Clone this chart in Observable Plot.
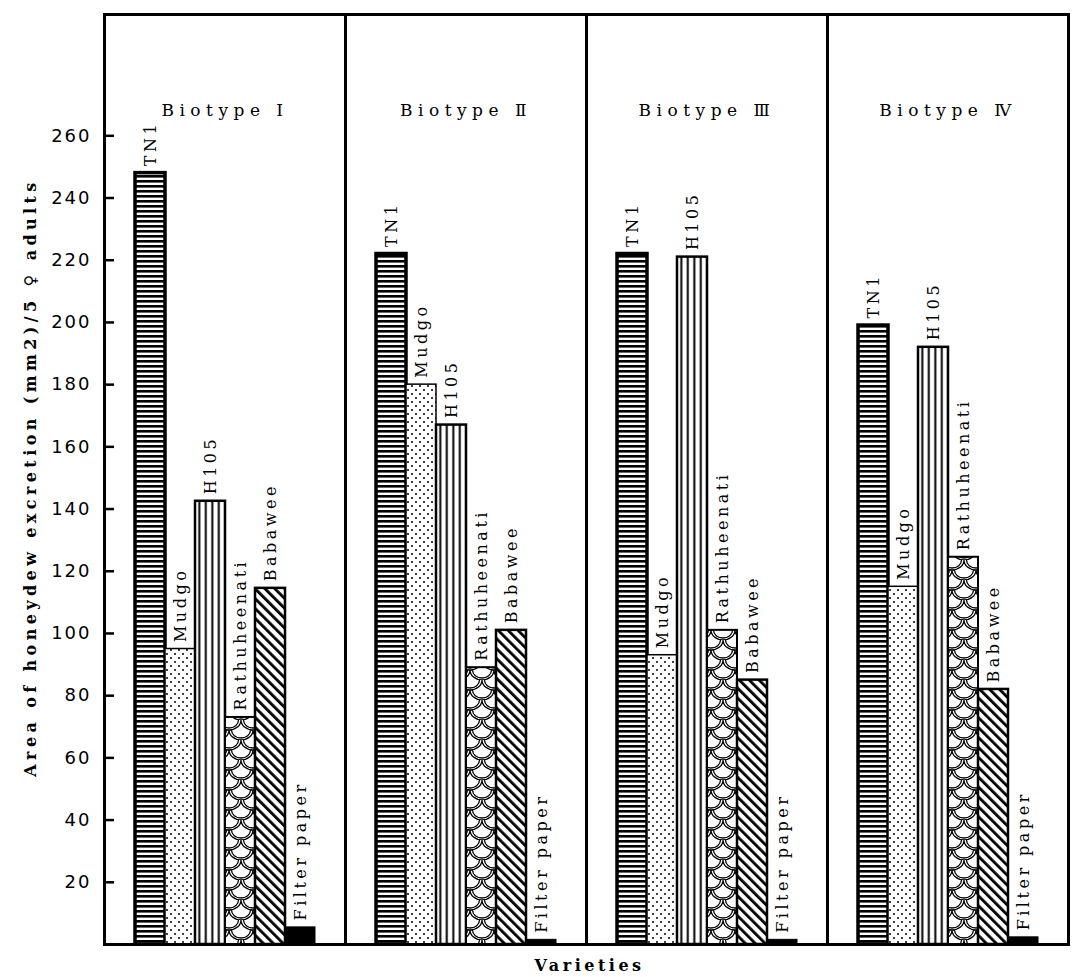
<!DOCTYPE html>
<html><head><meta charset="utf-8">
<script src="https://cdn.jsdelivr.net/npm/d3@7"></script>
<script src="https://cdn.jsdelivr.net/npm/@observablehq/plot@0.6"></script>
<style>body{margin:0;background:#fff}</style>
</head><body><div id="chart"></div>
<script>
const biotypes = ["Biotype I", "Biotype Ⅱ", "Biotype Ⅲ", "Biotype Ⅳ"];
const varieties = ["TN1", "Mudgo", "H105", "Rathuheenati", "Babawee", "Filter paper"];
const biotypeI   = [248, 95, 142.5, 73, 114.5, 5.5];
const biotypeII  = [222, 180, 167, 89, 101, 1.5];
const biotypeIII = [222, 93, 221, 101, 85, 1.5];
const biotypeIV  = [199, 115, 192, 124.5, 82, 2.3];
const yTicks = [20, 40, 60, 80, 100, 120, 140, 160, 180, 200, 220, 240, 260];
const yLabel = "Area of honeydew excretion (mm2)/5 ♀ adults";
const xLabel = "Varieties";

const series = [biotypeI, biotypeII, biotypeIII, biotypeIV];
const data = [];
biotypes.forEach((b, i) => varieties.forEach((v, j) => data.push({biotype: b, variety: v, value: series[i][j]})));

const fills = {
  "TN1": "url(#p-tn1)", "Mudgo": "url(#p-mudgo)", "H105": "url(#p-h105)",
  "Rathuheenati": "url(#p-rath)", "Babawee": "url(#p-bab)", "Filter paper": "black"
};
const strokeW = {"TN1": 3.5, "Mudgo": 1.5, "H105": 2.5, "Rathuheenati": 2, "Babawee": 2.5, "Filter paper": 1};
const serif = "'DejaVu Serif', serif";

const barMarks = varieties.map(v => Plot.barY(data.filter(d => d.variety === v), {
  fx: "biotype", x: "variety", y: "value", fill: fills[v], stroke: "black", strokeWidth: strokeW[v]
}));

const svg = Plot.plot({
  width: 1072, height: 977,
  marginLeft: 103, marginRight: 3, marginTop: 14, marginBottom: 33,
  style: {background: "white", color: "black", fontFamily: serif},
  fx: {domain: biotypes, paddingInner: 0, paddingOuter: 0, axis: null},
  x: {domain: varieties, paddingInner: 0, paddingOuter: 1, axis: null},
  y: {domain: [0, 299], axis: null},
  marks: [
    ...barMarks,
    Plot.text(data, {fx: "biotype", x: "variety", y: "value", text: "variety", rotate: -90,
      textAnchor: "start", dy: -7, fontSize: 16, fontFamily: serif, fill: "black"}),
    Plot.text(biotypes, {fx: d => d, text: d => d, frameAnchor: "top", dy: 89,
      fontSize: 17, fontFamily: serif, fill: "black"}),
    Plot.text([biotypes[0]], {fx: d => d, text: () => yLabel, frameAnchor: "left", textAnchor: "middle", rotate: -90,
      dx: -74, dy: -2, fontSize: 16, fontWeight: "bold", fontFamily: serif, fill: "black"}),
    Plot.text([biotypes[2]], {fx: d => d, text: () => xLabel, frameAnchor: "bottom-left", textAnchor: "middle", dx: 3, dy: 26,
      fontSize: 16, fontWeight: "bold", fontFamily: serif, fill: "black"}),
    Plot.axisY(yTicks, {anchor: "left", tickSize: -10, tickPadding: 23, strokeWidth: 2.5,
      fontSize: 18, fontFamily: "'DejaVu Sans', sans-serif", label: null}),
    Plot.frame({stroke: "black", strokeWidth: 3})
  ]
});

const s = d3.select(svg);
s.selectAll("text").style("letter-spacing", "3.5px");
s.selectAll("text").filter(function() { return biotypes.includes(this.textContent); })
  .style("letter-spacing", "5.5px");
s.selectAll("text").filter(function() { return this.textContent === yLabel; }).style("letter-spacing", "4.4px");
s.selectAll("[aria-label='y-axis tick label'] text").style("letter-spacing", "2px");

const defs = s.insert("defs", ":first-child");
// TN1: horizontal stripes
let p = defs.append("pattern").attr("id", "p-tn1").attr("patternUnits", "userSpaceOnUse").attr("width", 6).attr("height", 5);
p.append("rect").attr("width", 6).attr("height", 5).attr("fill", "white");
p.append("rect").attr("width", 6).attr("height", 2.6).attr("fill", "black");
// Mudgo: dots
p = defs.append("pattern").attr("id", "p-mudgo").attr("patternUnits", "userSpaceOnUse").attr("width", 8).attr("height", 8);
p.append("rect").attr("width", 8).attr("height", 8).attr("fill", "white");
p.append("circle").attr("cx", 2).attr("cy", 2).attr("r", 1).attr("fill", "black");
p.append("circle").attr("cx", 6).attr("cy", 6).attr("r", 1).attr("fill", "black");
// H105: vertical lines
p = defs.append("pattern").attr("id", "p-h105").attr("patternUnits", "userSpaceOnUse").attr("width", 6.5).attr("height", 10);
p.append("rect").attr("width", 6.5).attr("height", 10).attr("fill", "white");
p.append("rect").attr("x", 2.3).attr("width", 2).attr("height", 10).attr("fill", "black");
// Rathuheenati: overlapping scales
p = defs.append("pattern").attr("id", "p-rath").attr("patternUnits", "userSpaceOnUse").attr("width", 24).attr("height", 20);
p.append("rect").attr("width", 24).attr("height", 20).attr("fill", "white");
p.append("path").attr("fill", "none").attr("stroke", "black").attr("stroke-width", 1.3)
  .attr("d",
    "M0,0 A12,10 0 0 0 24,0 M-12,10 A12,10 0 0 0 12,10 M12,10 A12,10 0 0 0 36,10 M0,20 A12,10 0 0 0 24,20" +
    " M2.5,0 A9.5,8 0 0 0 21.5,0 M-9.5,10 A9.5,8 0 0 0 9.5,10 M14.5,10 A9.5,8 0 0 0 33.5,10 M2.5,20 A9.5,8 0 0 0 21.5,20");
// Babawee: diagonal lines
p = defs.append("pattern").attr("id", "p-bab").attr("patternUnits", "userSpaceOnUse").attr("width", 7).attr("height", 7)
  .attr("patternTransform", "rotate(-45)");
p.append("rect").attr("width", 7).attr("height", 7).attr("fill", "white");
p.append("rect").attr("width", 2.8).attr("height", 7).attr("fill", "black");

document.getElementById("chart").appendChild(svg);
</script>
</body></html>
